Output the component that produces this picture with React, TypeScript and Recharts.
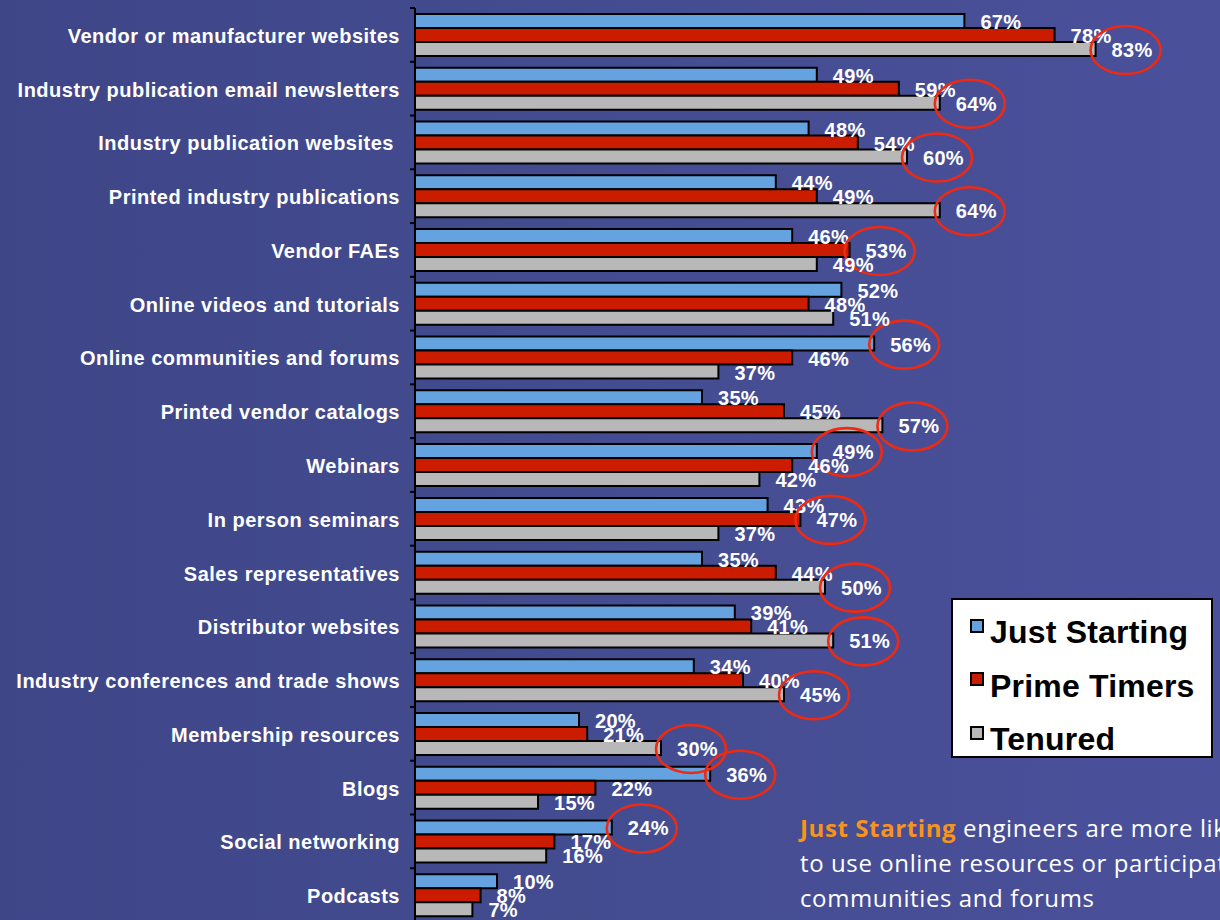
import React from 'react';
import { BarChart, Bar, XAxis, YAxis, LabelList, Legend } from 'recharts';

const categories = [
  'Vendor or manufacturer websites',
  'Industry publication email newsletters',
  'Industry publication websites ',
  'Printed industry publications',
  'Vendor FAEs',
  'Online videos and tutorials',
  'Online communities and forums',
  'Printed vendor catalogs',
  'Webinars',
  'In person seminars',
  'Sales representatives',
  'Distributor websites',
  'Industry conferences and trade shows',
  'Membership resources',
  'Blogs',
  'Social networking',
  'Podcasts',
];

const justStarting = [67, 49, 48, 44, 46, 52, 56, 35, 49, 43, 35, 39, 34, 20, 36, 24, 10];
const primeTimers = [78, 59, 54, 49, 53, 48, 46, 45, 46, 47, 44, 41, 40, 21, 22, 17, 8];
const tenured = [83, 64, 60, 64, 49, 51, 37, 57, 42, 37, 50, 51, 45, 30, 15, 16, 7];

// which series' label is circled in each category ('' = none)
const circled = [
  'tenured', 'tenured', 'tenured', 'tenured', 'primeTimers', '', 'justStarting', 'tenured',
  'justStarting', 'primeTimers', 'tenured', 'tenured', 'tenured', 'tenured', 'justStarting',
  'justStarting', '',
];

const seriesKeys = ['justStarting', 'primeTimers', 'tenured'];
const seriesNames = ['Just Starting', 'Prime Timers', 'Tenured'];
const seriesColors = ['#65a3e0', '#cc1c00', '#b8b8b8'];

const noteHighlight = 'Just Starting';
const noteLines = [
  ' engineers are more likely',
  'to use online resources or participate in online',
  'communities and forums',
];

const data = categories.map((c, i) => ({
  category: c,
  justStarting: justStarting[i],
  primeTimers: primeTimers[i],
  tenured: tenured[i],
}));

const CHART_W = 1220;
const CHART_H = 924;
const MARGIN = { top: 8, right: 67, bottom: 2, left: 0 };
const BAND = (CHART_H - MARGIN.top - MARGIN.bottom) / categories.length;
const FONT = '"Liberation Sans", Arial, Helvetica, sans-serif';

const CategoryTick = (props: any) => {
  const { x, y, payload, index } = props;
  const axisX = x + 15;
  const half = BAND / 2;
  return (
    <g>
      <text
        x={x}
        y={y}
        dy={1}
        textAnchor="end"
        dominantBaseline="central"
        fill="#ffffff"
        fontSize={20}
        fontWeight="bold"
        fontFamily={FONT}
        letterSpacing={0.5}
        style={{ whiteSpace: 'pre' }}
      >
        {payload.value}
      </text>
      <line x1={axisX - 5} x2={axisX} y1={y - half} y2={y - half} stroke="#000" strokeWidth={2} />
      {index === categories.length - 1 ? (
        <line x1={axisX - 5} x2={axisX} y1={y + half} y2={y + half} stroke="#000" strokeWidth={2} />
      ) : null}
    </g>
  );
};

const makeLabel = (key: string) => (props: any) => {
  const vb = props.viewBox || props;
  const x = vb.x ?? props.x;
  const y = vb.y ?? props.y;
  const width = vb.width ?? props.width;
  const height = vb.height ?? props.height;
  const index = props.index;
  const tx = x + width + 16;
  const ty = y + height / 2 + 1;
  const isCircled = index != null && circled[index] === key;
  return (
    <g>
      <text
        x={tx}
        y={ty}
        dominantBaseline="central"
        fill="#ffffff"
        fontSize={20}
        fontWeight="bold"
        fontFamily={FONT}
        letterSpacing={0.3}
      >
        {`${props.value}%`}
      </text>
      {isCircled ? (
        <ellipse cx={tx + 14} cy={ty} rx={35} ry={24} fill="none" stroke="#ee2a12" strokeWidth={2.6} />
      ) : null}
    </g>
  );
};

const LegendBox = (props: any) => {
  const payload = props.payload || [];
  return (
    <div
      style={{
        width: 262,
        height: 160,
        boxSizing: 'border-box',
        background: '#ffffff',
        border: '2px solid #000',
        position: 'relative',
        fontFamily: FONT,
      }}
    >
      {payload.map((p: any, i: number) => (
        <div
          key={p.value}
          style={{
            position: 'absolute',
            left: 17,
            top: 6 + i * 53.5,
            height: 53,
            display: 'flex',
            alignItems: 'center',
            whiteSpace: 'nowrap',
          }}
        >
          <span
            style={{
              display: 'inline-block',
              width: 10,
              height: 10,
              background: p.color,
              border: '2px solid #000',
              position: 'relative',
              top: -7,
              marginRight: 6,
            }}
          />
          <span style={{ fontSize: 32, fontWeight: 'bold', color: '#000', letterSpacing: 0.2 }}>{p.value}</span>
        </div>
      ))}
    </div>
  );
};

export default function App() {
  return (
    <div
      style={{
        position: 'absolute',
        left: 0,
        top: 0,
        width: 1220,
        height: 920,
        overflow: 'hidden',
        background: 'linear-gradient(90deg, #3e4688 0%, #454d92 55%, #4a509a 100%)',
      }}
    >
      <BarChart
        width={CHART_W}
        height={CHART_H}
        data={data}
        layout="vertical"
        margin={MARGIN}
        barGap={0}
      >
        <XAxis type="number" domain={[0, 90]} hide />
        <YAxis
          type="category"
          dataKey="category"
          width={415}
          axisLine={{ stroke: '#000', strokeWidth: 2 }}
          tickLine={false}
          tickSize={0}
          tickMargin={15}
          tick={<CategoryTick />}
          interval={0}
        />
        <Legend
          layout="horizontal"
          verticalAlign="middle"
          align="center"
          content={<LegendBox />}
          wrapperStyle={{ left: 951, top: 598, width: 262, height: 160 }}
        />
        {seriesKeys.map((k, i) => (
          <Bar
            key={k}
            dataKey={k}
            name={seriesNames[i]}
            fill={seriesColors[i]}
            stroke="#000"
            strokeWidth={2}
            barSize={14}
            isAnimationActive={false}
          >
            <LabelList dataKey={k} content={makeLabel(k)} />
          </Bar>
        ))}
      </BarChart>
      <div
        style={{
          position: 'absolute',
          left: 800,
          top: 810,
          fontFamily: '"Open Sans", sans-serif',
          fontSize: 24,
          letterSpacing: 0.6,
          lineHeight: '35px',
          color: '#ffffff',
          whiteSpace: 'nowrap',
        }}
      >
        <div>
          <span style={{ color: '#f7941d', fontWeight: 'bold' }}>{noteHighlight}</span>
          {noteLines[0]}
        </div>
        <div>{noteLines[1]}</div>
        <div>{noteLines[2]}</div>
      </div>
    </div>
  );
}
